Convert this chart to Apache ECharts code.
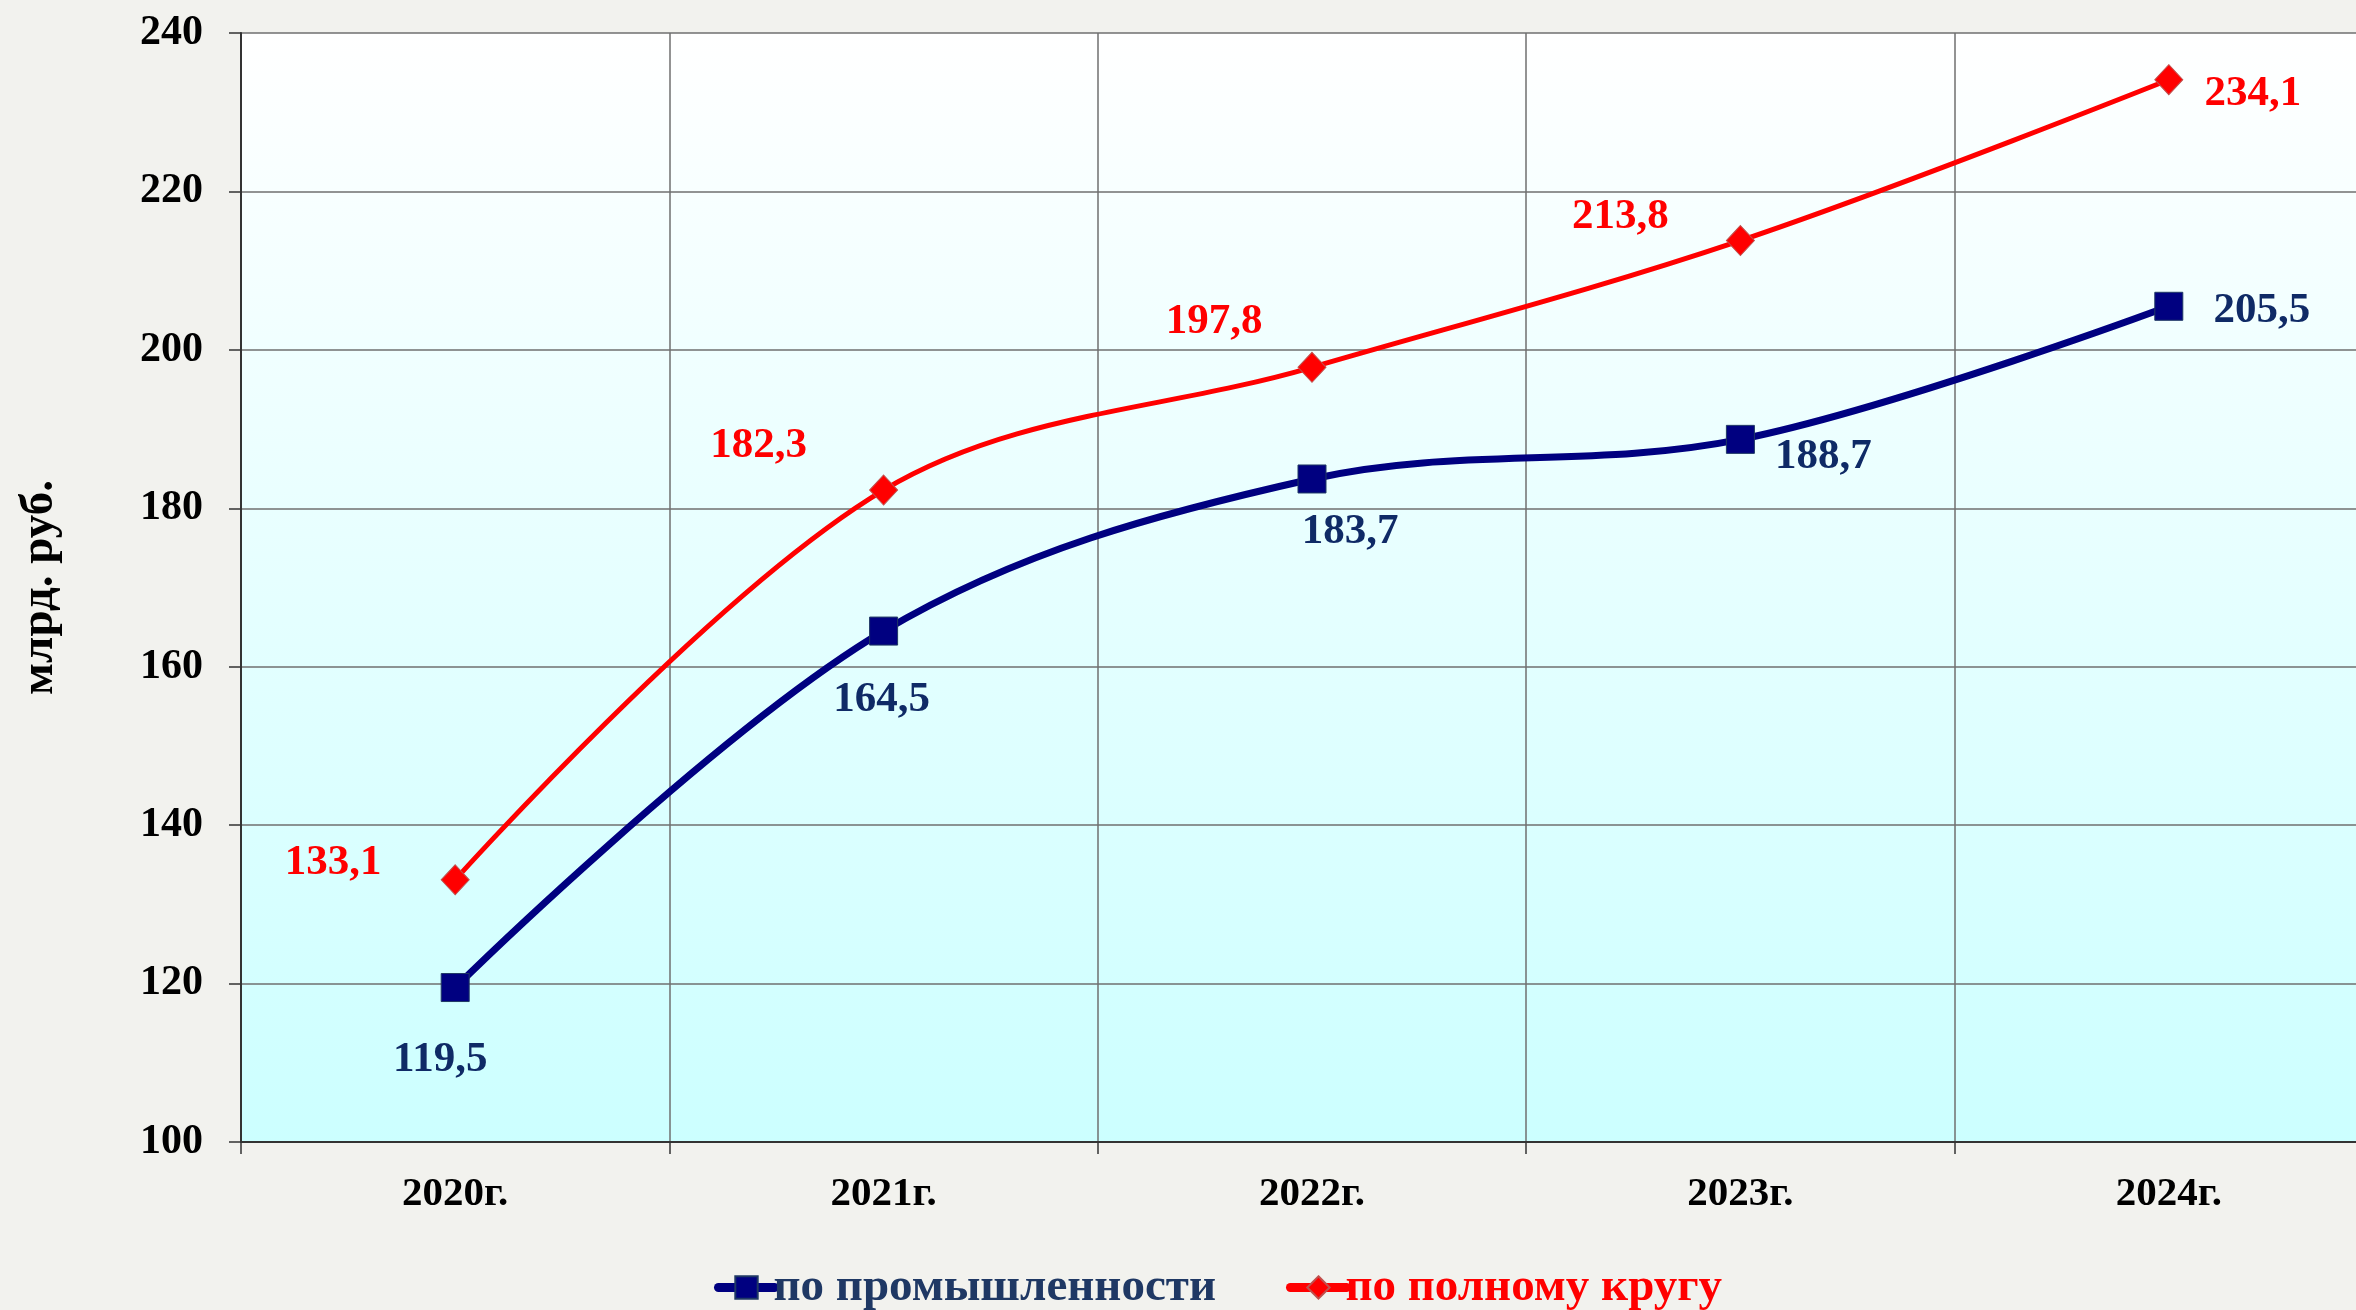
<!DOCTYPE html>
<html>
<head>
<meta charset="utf-8">
<script src="https://cdn.jsdelivr.net/npm/echarts@6/dist/echarts.min.js"></script>
<style>
  html, body { margin: 0; padding: 0; background: #f2f2ee; }
  #main { width: 2356px; height: 1310px; }
</style>
</head>
<body>
<div id="main"></div>
<script>
// данные
const years = ['2020г.', '2021г.', '2022г.', '2023г.', '2024г.']
const industry = [119.5, 164.5, 183.7, 188.7, 205.5]
const total = [133.1, 182.3, 197.8, 213.8, 234.1]
const yTicks = [100, 120, 140, 160, 180, 200, 220, 240]

// смещения подписей от точек
const industryLabelOffset = [[-15, 72], [-2, 69], [38, 53], [83, 18], [93, 5]]
const totalLabelOffset = [[-122, -17], [-125, -44], [-98, -45], [-120, -24], [84, 14]]

const font = "'Liberation Serif', 'Times New Roman', serif"
const fmt = v => v.toFixed(1).replace('.', ',')

function points (values, offsets) {
  return values.map((v, i) => ({
    value: v,
    label: { offset: offsets[i] }
  }))
}

const chart = echarts.init(document.getElementById('main'))
chart.setOption({
  backgroundColor: '#f2f2ee',
  animation: false,
  grid: {
    left: 241,
    top: 33,
    width: 2142,
    bottom: 168,
    outerBoundsMode: 'none',
    containLabel: false,
    show: true,
    borderWidth: 0,
    backgroundColor: {
      type: 'linear', x: 0, y: 0, x2: 0, y2: 1,
      colorStops: [
        { offset: 0, color: '#ffffff' },
        { offset: 1, color: '#ccffff' }
      ]
    }
  },
  legend: {
    left: 709,
    top: 1259,
    itemGap: 70,
    itemWidth: 56,
    itemHeight: 28,
    textStyle: { fontFamily: font, fontWeight: 'bold', fontSize: 47, padding: [0, 0, 0, -6] },
    data: [
      { name: 'по промышленности', textStyle: { color: '#1f3864' }, lineStyle: { width: 9, cap: 'round' } },
      { name: 'по полному кругу', textStyle: { color: '#ff0000' }, lineStyle: { width: 9, cap: 'round' } }
    ]
  },
  xAxis: {
    type: 'category',
    data: years,
    boundaryGap: true,
    axisLine: { lineStyle: { color: '#333333', width: 2 } },
    axisTick: { show: true, length: 12, lineStyle: { color: '#333333', width: 1.5 } },
    splitLine: { show: true, lineStyle: { color: '#6f6f6f', width: 1.5 } },
    axisLabel: { color: '#000', fontFamily: font, fontWeight: 'bold', fontSize: 41, margin: 32 }
  },
  yAxis: {
    type: 'value',
    min: yTicks[0],
    max: yTicks[yTicks.length - 1],
    interval: 20,
    name: 'млрд. руб.',
    nameLocation: 'middle',
    nameRotate: 90,
    nameGap: 178,
    nameTextStyle: { color: '#000', fontFamily: font, fontWeight: 'bold', fontSize: 47 },
    axisLine: { show: true, lineStyle: { color: '#333333', width: 2 } },
    axisTick: { show: true, length: 12, lineStyle: { color: '#333333', width: 1.5 } },
    splitLine: { show: true, lineStyle: { color: '#6f6f6f', width: 1.5 } },
    axisLabel: { color: '#000', fontFamily: font, fontWeight: 'bold', fontSize: 42, margin: 38 }
  },
  series: [
    {
      name: 'по промышленности',
      type: 'line',
      smooth: 0.35,
      data: points(industry, industryLabelOffset),
      symbol: 'rect',
      symbolSize: 28,
      lineStyle: { color: '#000080', width: 7 },
      itemStyle: { color: '#000080', borderColor: '#1f3864', borderWidth: 1 },
      label: {
        show: true,
        position: 'inside',
        formatter: p => fmt(p.value),
        color: '#0f2a66',
        fontFamily: font,
        fontWeight: 'bold',
        fontSize: 43
      },
      z: 3
    },
    {
      name: 'по полному кругу',
      type: 'line',
      smooth: 0.35,
      data: points(total, totalLabelOffset),
      symbol: 'diamond',
      symbolSize: [28, 30],
      lineStyle: { color: '#ff0000', width: 5 },
      itemStyle: { color: '#ff0000', borderColor: '#c0504d', borderWidth: 1 },
      label: {
        show: true,
        position: 'inside',
        formatter: p => fmt(p.value),
        color: '#ff0000',
        fontFamily: font,
        fontWeight: 'bold',
        fontSize: 43
      },
      z: 3
    }
  ]
})
</script>
</body>
</html>
